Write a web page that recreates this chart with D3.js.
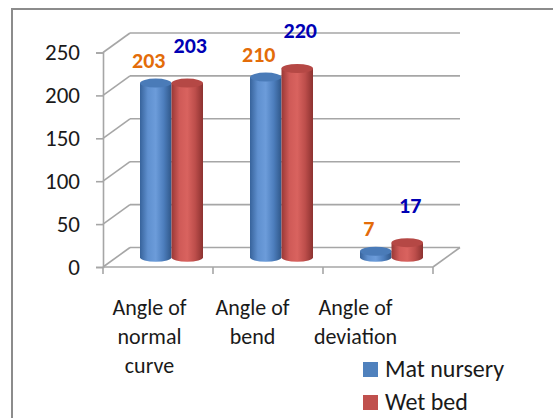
<!DOCTYPE html>
<html>
<head>
<meta charset="utf-8">
<script src="https://cdn.jsdelivr.net/npm/d3@7"></script>
<style>
  body { margin: 0; background: #fff; }
  text { font-family: Carlito, Lato, "Liberation Sans", sans-serif; }
</style>
</head>
<body>
<script>
// chart data
const categories = ["Angle of normal curve", "Angle of bend", "Angle of deviation"];
const seriesNames = ["Mat nursery", "Wet bed"];
const matNursery = [203, 210, 7];
const wetBed = [203, 220, 17];
const yTicks = [0, 50, 100, 150, 200, 250];

const W = 553, H = 418;
const depth = {dx: 27, dy: -19.5};

const svg = d3.select("body").append("svg")
    .attr("width", W)
    .attr("height", H);

// gradients for the cylinders
const defs = svg.append("defs");
const grads = [
  {id: "gBlue", stops: ["#37639b", "#5f90cf", "#6c9cda", "#4d7ebd", "#2f5789"]},
  {id: "gRed", stops: ["#9a3836", "#cf5a57", "#d9635f", "#bd4e4b", "#8c3230"]}
];
grads.forEach(g => {
  const lg = defs.append("linearGradient").attr("id", g.id)
      .attr("x1", "0%").attr("x2", "100%").attr("y1", "0%").attr("y2", "0%");
  g.stops.forEach((c, i) => lg.append("stop")
      .attr("offset", (i / (g.stops.length - 1) * 100) + "%")
      .attr("stop-color", c));
});
const topColors = ["#4a7bb8", "#b54845"];
const fills = ["url(#gBlue)", "url(#gRed)"];
const legendColors = ["#4f81bd", "#c0504d"];
const labelColors = ["#e36c09", "#0000b4"];

// outer frame
svg.append("rect")
    .attr("x", 12).attr("y", 9)
    .attr("width", 700).attr("height", 600)
    .attr("fill", "none")
    .attr("stroke", "#8c8c8c")
    .attr("stroke-width", 2);

// scales (front plane)
const x = d3.scaleBand()
    .domain(categories)
    .range([103, 433]);

const y = d3.scaleLinear()
    .domain([0, 250])
    .range([267, 52.5]);

const xs = d3.scaleBand()
    .domain(seriesNames)
    .range([-31.5, 31.5]);

const gridColor = "#a6a6a6";

// walls: side diagonals + back gridlines
const grid = svg.append("g");
yTicks.forEach(t => {
  const yf = y(t);
  grid.append("line")
      .attr("x1", x.range()[0]).attr("y1", yf)
      .attr("x2", x.range()[0] + depth.dx).attr("y2", yf + depth.dy)
      .attr("stroke", gridColor).attr("stroke-width", 1.6);
  grid.append("line")
      .attr("x1", x.range()[0] + depth.dx).attr("y1", yf + depth.dy)
      .attr("x2", x.range()[1] + depth.dx).attr("y2", yf + depth.dy)
      .attr("stroke", gridColor).attr("stroke-width", 1.6);
});

// floor front + right edge
grid.append("line")
    .attr("x1", x.range()[0]).attr("y1", y(0))
    .attr("x2", x.range()[1]).attr("y2", y(0))
    .attr("stroke", gridColor).attr("stroke-width", 1.6);
grid.append("line")
    .attr("x1", x.range()[1]).attr("y1", y(0))
    .attr("x2", x.range()[1] + depth.dx).attr("y2", y(0) + depth.dy)
    .attr("stroke", gridColor).attr("stroke-width", 1.6);

// Y axis
const yAxis = svg.append("g")
    .attr("transform", `translate(${x.range()[0]},0)`)
    .call(d3.axisLeft(y).tickValues(yTicks).tickSize(7).tickPadding(16));
yAxis.select(".domain").attr("stroke", gridColor).attr("stroke-width", 1.6);
yAxis.selectAll(".tick line").attr("stroke", gridColor).attr("stroke-width", 1.6);
yAxis.selectAll(".tick text")
    .attr("font-size", 23)
    .attr("font-family", "Carlito, Lato, sans-serif")
    .attr("fill", "#1a1a1a");

// X ticks on the floor front edge
const xTickPos = [x.range()[0]].concat(categories.map(c => x(c) + x.bandwidth()));
svg.append("g").selectAll("line")
    .data(xTickPos)
    .join("line")
    .attr("x1", d => d).attr("x2", d => d)
    .attr("y1", y(0)).attr("y2", y(0) + 7)
    .attr("stroke", gridColor).attr("stroke-width", 1.6);

// category labels (perspective pulls them slightly left)
const xLabel = d3.scaleBand()
    .domain(categories)
    .range([98, 407]);

const catLabels = svg.append("g")
    .selectAll("text")
    .data(categories)
    .join("text")
    .attr("x", d => xLabel(d) + xLabel.bandwidth() / 2)
    .attr("y", 315)
    .attr("text-anchor", "middle")
    .attr("font-size", 22)
    .attr("fill", "#1a1a1a");

catLabels.each(function(d) {
  const el = d3.select(this);
  const words = d.split(" ");
  const lines = [];
  let line = [];
  words.forEach(w => {
    const test = line.concat(w).join(" ");
    if (line.length && test.length > 9) {
      lines.push(line.join(" "));
      line = [w];
    } else {
      line.push(w);
    }
  });
  lines.push(line.join(" "));
  lines.forEach((l, i) => el.append("tspan")
      .attr("x", el.attr("x"))
      .attr("dy", i === 0 ? 0 : 29)
      .text(l));
});

// cylinders
const series = [matNursery, wetBed];
const rx = xs.bandwidth() / 2;
const ry = 4.5;
const bars = [];
series.forEach((vals, si) => {
  vals.forEach((v, ci) => {
    bars.push({si, ci, v});
  });
});

const midDx = depth.dx / 2, midDy = depth.dy / 2;
const cyl = svg.append("g");
bars.forEach(b => {
  const cx = x(categories[b.ci]) + x.bandwidth() / 2 + xs(seriesNames[b.si]) + rx + midDx;
  const yBase = y(0) + midDy;
  const yTop = y(b.v) + midDy;
  b.cx = cx; b.yTop = yTop;
  cyl.append("path")
      .attr("d", `M${cx - rx},${yTop} L${cx - rx},${yBase} A${rx},${ry} 0 0 0 ${cx + rx},${yBase} L${cx + rx},${yTop} Z`)
      .attr("fill", fills[b.si]);
  cyl.append("ellipse")
      .attr("cx", cx).attr("cy", yTop)
      .attr("rx", rx).attr("ry", ry)
      .attr("fill", topColors[b.si]);
});

// value labels
svg.append("g").selectAll("text")
    .data(bars)
    .join("text")
    .attr("x", d => d.si === 0 ? d.cx - 7 : d.cx + 3)
    .attr("y", d => d.si === 0 ? d.yTop - 15 : d.yTop - 30)
    .attr("text-anchor", "middle")
    .attr("font-size", 22)
    .attr("font-weight", "bold")
    .attr("fill", d => labelColors[d.si])
    .text(d => d.v);

// legend
const legend = svg.append("g").selectAll("g")
    .data(seriesNames)
    .join("g")
    .attr("transform", (d, i) => `translate(363, ${362 + i * 33})`);
legend.append("rect")
    .attr("width", 15).attr("height", 15)
    .attr("fill", (d, i) => legendColors[i]);
legend.append("text")
    .attr("x", 22).attr("y", 15)
    .attr("font-size", 24)
    .attr("fill", "#1a1a1a")
    .text(d => d);
</script>
</body>
</html>
